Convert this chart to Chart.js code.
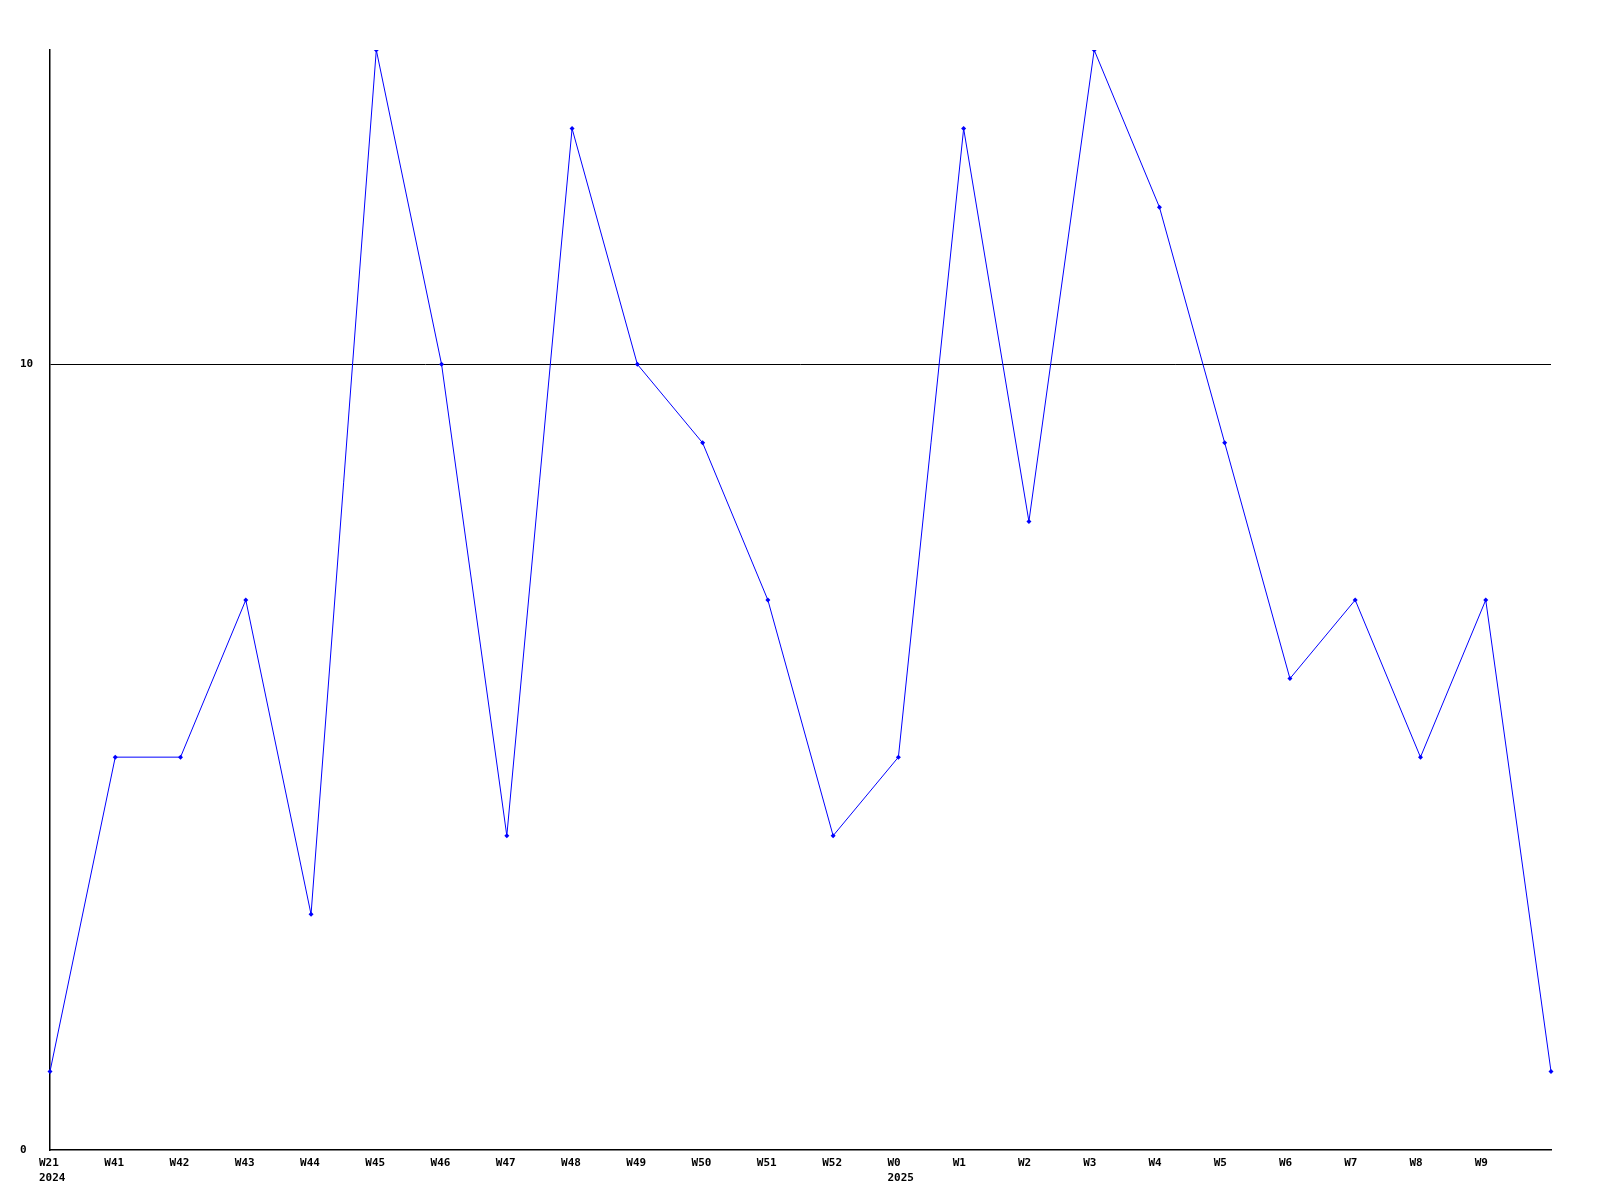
<!DOCTYPE html>
<html>
<head>
<meta charset="utf-8">
<style>
  html, body { margin: 0; padding: 0; background: #fff; }
  #chart { display: block; }
</style>
<script src="https://cdn.jsdelivr.net/npm/chart.js@4"></script>
</head>
<body>
<canvas id="chart" width="1600" height="1200"></canvas>
<script>
// weekly values
const weekLabels = [
  ["W21", "2024"], "W41", "W42", "W43", "W44", "W45", "W46", "W47", "W48",
  "W49", "W50", "W51", "W52", ["W0", "2025"], "W1", "W2", "W3", "W4", "W5",
  "W6", "W7", "W8", "W9", ""
];
const weekValues = [1, 5, 5, 7, 3, 14, 10, 4, 13, 10, 9, 7, 4, 5, 13, 8, 14, 12, 9, 6, 7, 5, 7, 1];
const yTicks = [0, 10];
const yMax = 14;

document.addEventListener("DOMContentLoaded", () => {
  const font = { family: "'DejaVu Sans Mono', monospace", size: 11, weight: "bold", lineHeight: 1.35 };

  new Chart(document.getElementById("chart"), {
    type: "line",
    data: {
      labels: weekLabels,
      datasets: [
        {
          data: weekValues,
          borderColor: "#0000ff",
          backgroundColor: "#0000ff",
          borderWidth: 1,
          pointStyle: "rectRot",
          pointRadius: 2.5,
          pointBorderWidth: 0,
          tension: 0,
        },
      ],
    },
    options: {
      responsive: false,
      animation: false,
      layout: { padding: { left: 20, top: 50, right: 49, bottom: 0 } },
      plugins: { legend: { display: false }, tooltip: { enabled: false } },
      scales: {
        x: {
          offset: false,
          grid: { display: false, drawTicks: false },
          border: { display: true, color: "#000", width: 1.5 },
          // labels are left-aligned a little before each tick
          ticks: {
            color: "#000",
            font: font,
            padding: 6,
            maxRotation: 0,
            autoSkip: false,
            align: "start",
            labelOffset: -11,
          },
          afterFit: (axis) => { axis.height = 50; },
        },
        y: {
          min: 0,
          max: yMax,
          afterBuildTicks: (axis) => { axis.ticks = yTicks.map((v) => ({ value: v })); },
          grid: {
            drawTicks: false,
            color: (ctx) => (ctx.tick && ctx.tick.value === 10 ? "#000" : "rgba(0,0,0,0)"),
            lineWidth: 1,
          },
          border: { display: true, color: "#000", width: 1.5 },
          ticks: { color: "#000", font: font, crossAlign: "far", padding: 0 },
          afterFit: (axis) => { axis.width = 30; },
        },
      },
    },
  });
});
</script>
</body>
</html>
